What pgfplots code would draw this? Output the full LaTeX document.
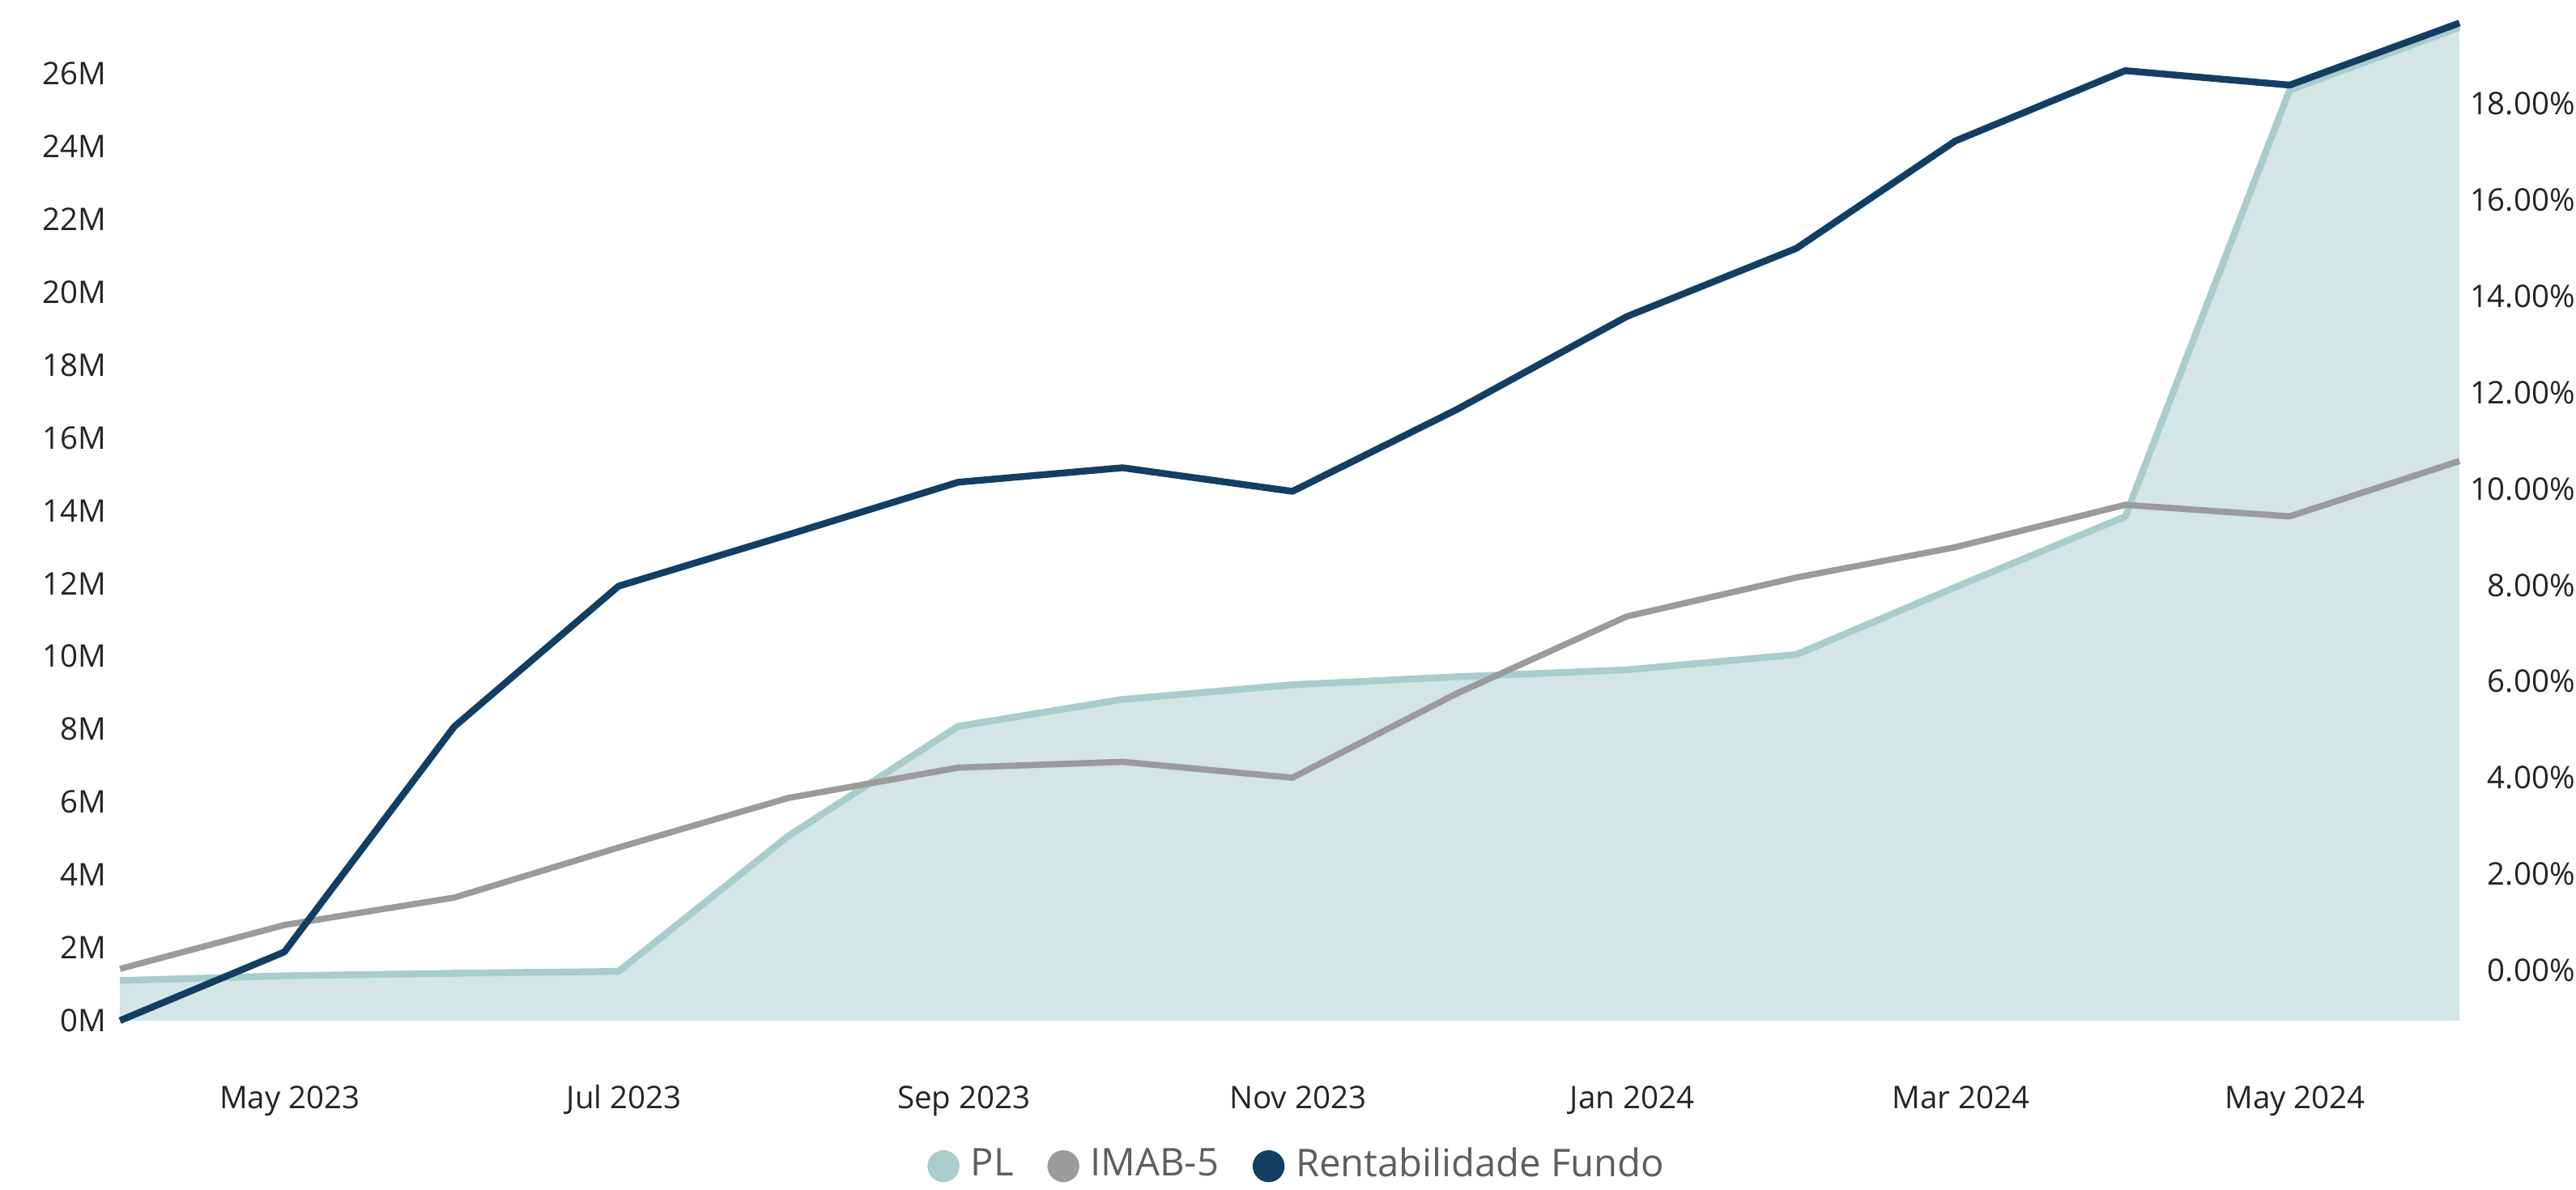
\documentclass[border=0pt]{standalone}
\usepackage{fontspec}
\setmainfont{Open Sans}
\usepackage{pgfplots}
\usepackage{pgfplotstable}
\pgfplotsset{compat=1.18}
\definecolor{plline}{HTML}{A9CCCC}
\definecolor{plfill}{HTML}{D3E5E5}
\definecolor{imab}{HTML}{9B9B9B}
\definecolor{rent}{HTML}{123E63}
\definecolor{txt}{HTML}{252423}
\definecolor{legtxt}{HTML}{605E5C}

\pgfplotstableread{
d pl imab rent
0 1.10 0.03 -1.045
30 1.23 0.94 0.38
61 1.30 1.51 5.06
91 1.35 2.55 7.98
122 5.07 3.58 9.05
153 8.08 4.21 10.14
183 8.82 4.33 10.44
214 9.22 4.00 9.95
244 9.44 5.75 11.65
275 9.63 7.35 13.58
306 10.05 8.16 15.00
335 11.90 8.79 17.23
366 13.84 9.67 18.69
396 25.55 9.43 18.39
427 27.27 10.58 19.68
}\data

\begin{document}
\begin{tikzpicture}
\useasboundingbox (-0.745cm,-1.051cm) rectangle (15.255cm,6.337cm);
\begin{axis}[
  scale only axis, width=14.531cm, height=6.194cm,
  xmin=0, xmax=427, ymin=0, ymax=27.39, clip=false,
  axis line style={draw=none}, major tick style={draw=none},
  xtick={31,92,154,215,276,336,397},
  xticklabels={May 2023,Jul 2023,Sep 2023,Nov 2023,Jan 2024,Mar 2024,May 2024},
  ytick={0,2,...,26},
  yticklabels={0M,2M,4M,6M,8M,10M,12M,14M,16M,18M,20M,22M,24M,26M},
  tick label style={font=\fontsize{5.5}{6.6}\selectfont, text=txt, inner sep=0pt},
  xticklabel style={anchor=base, yshift=-0.545cm},
  yticklabel style={anchor=east, xshift=-0.08cm},
]
\addplot[fill=plfill, draw=none] table[x=d,y=pl]{\data} \closedcycle;
\addplot[plline, line width=1.2pt, line join=round] table[x=d,y=pl]{\data};
\end{axis}
\begin{axis}[
  scale only axis, width=14.531cm, height=6.194cm,
  xmin=0, xmax=427, ymin=-1.045, ymax=19.68, clip=false,
  axis line style={draw=none}, major tick style={draw=none},
  xtick=\empty,
  yticklabel pos=right,
  ytick={0,2,...,18},
  yticklabels={0.00\%,2.00\%,4.00\%,6.00\%,8.00\%,10.00\%,12.00\%,14.00\%,16.00\%,18.00\%},
  tick label style={font=\fontsize{5.5}{6.6}\selectfont, text=txt, inner sep=0pt},
  yticklabel style={anchor=east, xshift=0.7245cm},
  legend style={at={(0.505,-0.146)}, anchor=center, draw=none, fill=none,
    legend columns=-1, font=\fontsize{6.75}{8}\selectfont, text=legtxt,
    /tikz/every even column/.append style={column sep=0.14cm}},
]
\addlegendimage{legend image code/.code={\fill[plline] (0.092cm,0cm) circle (0.092cm);}}
\addlegendentry{PL}
\addlegendimage{legend image code/.code={\fill[imab] (0.092cm,0cm) circle (0.092cm);}}
\addlegendentry{IMAB-5}
\addlegendimage{legend image code/.code={\fill[rent] (0.092cm,0cm) circle (0.092cm);}}
\addlegendentry{Rentabilidade Fundo}
\addplot[imab, line width=1.1pt, line join=round, forget plot] table[x=d,y=imab]{\data};
\addplot[rent, line width=1.2pt, line join=round, forget plot] table[x=d,y=rent]{\data};
\end{axis}
\end{tikzpicture}
\end{document}
